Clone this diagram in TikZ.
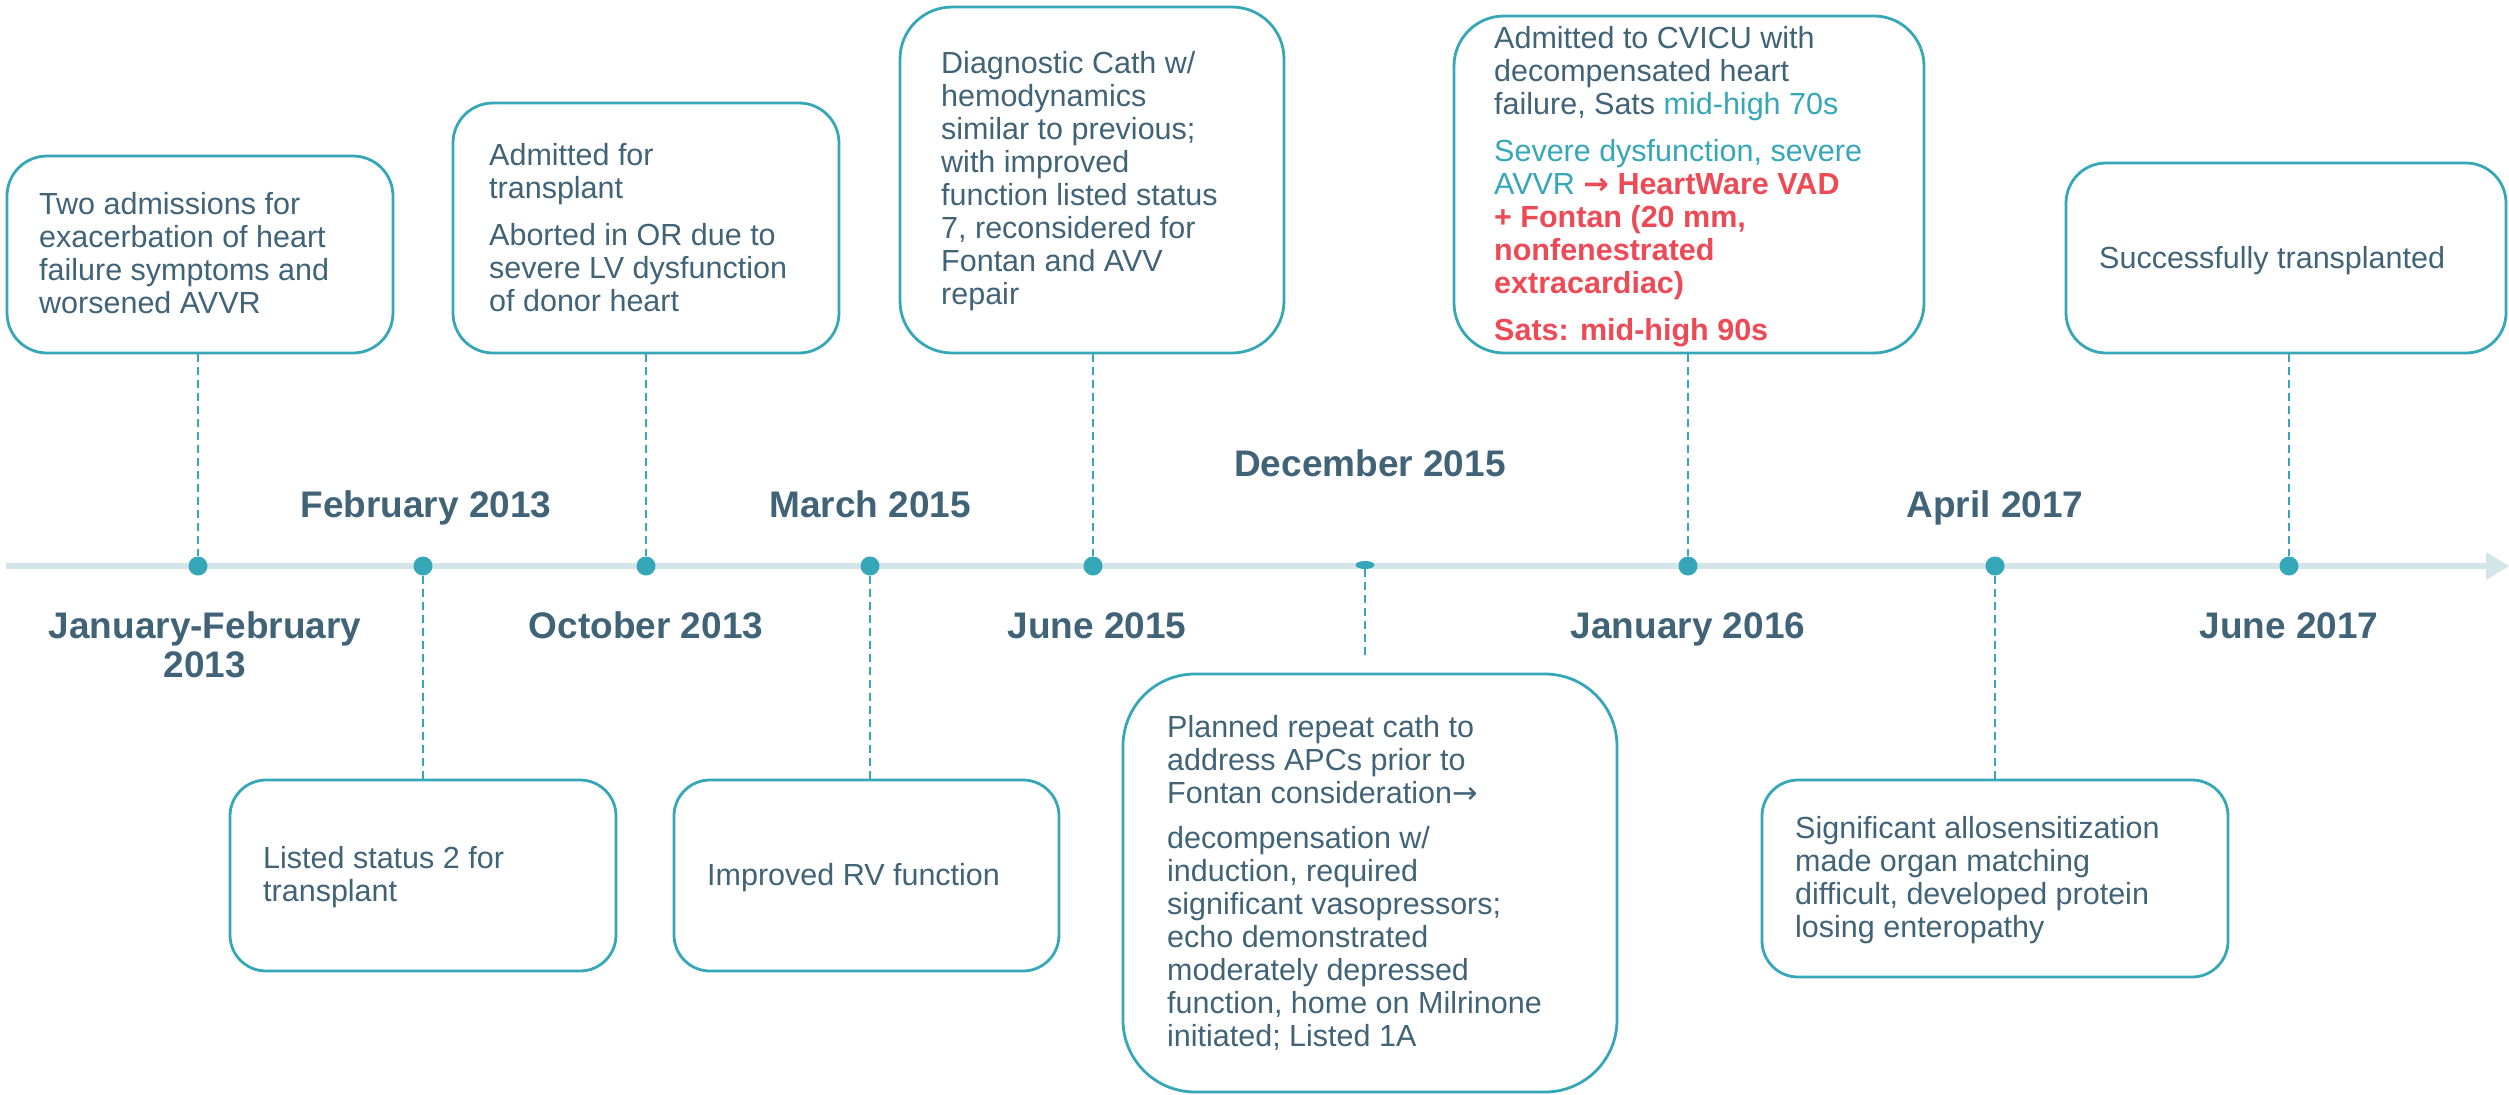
\documentclass[tikz,border=0pt]{standalone}
\usepackage{fontspec}
\setmainfont{Liberation Sans}
\newfontfamily\arrowfont{DejaVu Sans}
\usetikzlibrary{shapes.geometric}
\definecolor{txtc}{HTML}{406378}
\definecolor{tealc}{HTML}{35A7B9}
\definecolor{redc}{HTML}{EE4A55}
\definecolor{linec}{HTML}{D4E5EA}
\newcommand{\rarr}{{\arrowfont →}}
\tikzset{
  box/.style={draw=tealc, line width=2.8pt, fill=white, inner sep=0pt, shape=rectangle},
  dot/.style={circle, fill=tealc, minimum size=19pt, inner sep=0pt},
  flatdot/.style={ellipse, fill=tealc, minimum width=19pt, minimum height=8pt, inner sep=0pt},
  dashc/.style={draw=tealc, line width=2pt, dash pattern=on 8pt off 5pt},
  txt/.style={anchor=north west, align=left, inner sep=0pt, text=txtc, font=\fontsize{30.5}{33}\selectfont},
  datel/.style={anchor=base, align=center, inner sep=0pt, text=txtc, font=\fontsize{37}{39}\selectfont\bfseries}
}
\begin{document}
\begin{tikzpicture}[x=1pt,y=-1pt]
\useasboundingbox (0,0) rectangle (2509,1095);
% timeline
\coordinate (tl0) at (6,566);
\coordinate (tl1) at (2490,566);
\draw[linec, line width=6pt] (tl0) -- (tl1);
\fill[linec] (2486,552) -- (2509,566) -- (2486,580) -- cycle;

% boxes
\node[box, rounded corners=40pt, minimum width=386pt, minimum height=197pt] (b1) at (200,254.5) {};
\node[box, rounded corners=40pt, minimum width=386pt, minimum height=250pt] (b2) at (646,228) {};
\node[box, rounded corners=52pt, minimum width=384pt, minimum height=346pt] (b3) at (1092,180) {};
\node[box, rounded corners=50pt, minimum width=470pt, minimum height=337pt] (b4) at (1689,184.5) {};
\node[box, rounded corners=40pt, minimum width=440pt, minimum height=190pt] (b5) at (2286,258) {};
\node[box, rounded corners=36pt, minimum width=386pt, minimum height=191pt] (b6) at (423,875.5) {};
\node[box, rounded corners=36pt, minimum width=385pt, minimum height=191pt] (b7) at (866.5,875.5) {};
\node[box, rounded corners=72pt, minimum width=494pt, minimum height=418pt] (b8) at (1370,883) {};
\node[box, rounded corners=36pt, minimum width=466pt, minimum height=197pt] (b9) at (1995,878.5) {};

% dots
\node[dot] (d1) at (198,566) {};
\node[dot] (d2) at (423,566) {};
\node[dot] (d3) at (646,566) {};
\node[dot] (d4) at (870,566) {};
\node[dot] (d5) at (1093,566) {};
\node[flatdot] (d6) at (1365,565) {};
\node[dot] (d7) at (1688,566) {};
\node[dot] (d8) at (1995,566) {};
\node[dot] (d9) at (2289,566) {};
\coordinate (c6) at (1365,655);

% connectors
\draw[dashc] (d1 |- b1.south) -- (d1);
\draw[dashc] (d3 |- b2.south) -- (d3);
\draw[dashc] (d5 |- b3.south) -- (d5);
\draw[dashc] (d7 |- b4.south) -- (d7);
\draw[dashc] (d9 |- b5.south) -- (d9);
\draw[dashc] (d2) -- (d2 |- b6.north);
\draw[dashc] (d4) -- (d4 |- b7.north);
\draw[dashc] (d6) -- (c6);
\draw[dashc] (d8) -- (d8 |- b9.north);

% box texts
\node[txt] (t1) at (39,191.7) {Two admissions for\\exacerbation of heart\\failure symptoms and\\worsened AVVR};
\node[txt] (t2) at (489,142.7) {Admitted for\\transplant\\[14pt]Aborted in OR due to\\severe LV dysfunction\\of donor heart};
\node[txt] (t3) at (941,50.7) {Diagnostic Cath w/\\hemodynamics\\similar to previous;\\with improved\\function listed status\\7, reconsidered for\\Fontan and AVV\\repair};
\node[txt] (t4) at (1494,25.7) {Admitted to CVICU with\\decompensated heart\\failure, Sats \textcolor{tealc}{mid-high 70s}\\[14pt]\textcolor{tealc}{Severe dysfunction, severe}\\\textcolor{tealc}{AVVR} \textcolor{redc}{\textbf{\rarr\ HeartWare VAD}}\\\textcolor{redc}{\textbf{+ Fontan (20 mm,}}\\\textcolor{redc}{\textbf{nonfenestrated}}\\\textcolor{redc}{\textbf{extracardiac)}}\\[14pt]\textcolor{redc}{\textbf{Sats: mid-high 90s}}};
\node[txt] (t5) at (2099,245.7) {Successfully transplanted};
\node[txt] (t6) at (263,845.7) {Listed status 2 for\\transplant};
\node[txt] (t7) at (707,862.7) {Improved RV function};
\node[txt] (t8) at (1167,714.7) {Planned repeat cath to\\address APCs prior to\\Fontan consideration\rarr\\[12pt]decompensation w/\\induction, required\\significant vasopressors;\\echo demonstrated\\moderately depressed\\function, home on Milrinone\\initiated; Listed 1A};
\node[txt] (t9) at (1795,815.7) {Significant allosensitization\\made organ matching\\difficult, developed protein\\losing enteropathy};

% date labels
\node[datel, anchor=north] (l1) at (205,611.5) {January-February\\2013};
\node[datel] (l2) at (426,517) {February 2013};
\node[datel] (l3) at (646,638) {October 2013};
\node[datel] (l4) at (870,517) {March 2015};
\node[datel] (l5) at (1097,638) {June 2015};
\node[datel] (l6) at (1370,476) {December 2015};
\node[datel] (l7) at (1688,638) {January 2016};
\node[datel] (l8) at (1995,517) {April 2017};
\node[datel] (l9) at (2289,638) {June 2017};
\end{tikzpicture}
\end{document}
